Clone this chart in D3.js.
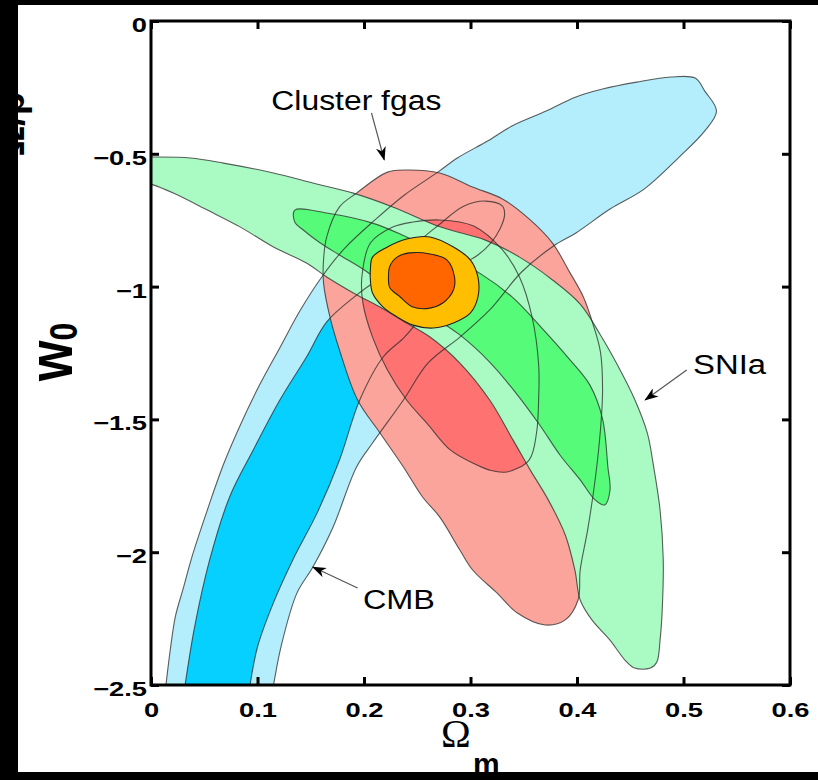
<!DOCTYPE html>
<html>
<head>
<meta charset="utf-8">
<script src="https://cdn.jsdelivr.net/npm/d3@7"></script>
<style>
  body { margin: 0; background: #000; }
  svg { display: block; }
</style>
</head>
<body>
<div id="chart"></div>
<script>
// Confidence contours in the (Omega_m, w0) plane
var cmbOuter = [[0.012,-2.56],[0.014,-2.50],[0.018,-2.37],[0.023,-2.24],[0.030,-2.14],[0.039,-2.01],[0.053,-1.84],[0.068,-1.67],[0.084,-1.52],[0.102,-1.37],[0.121,-1.23],[0.140,-1.09],[0.161,-0.96],[0.182,-0.855],[0.210,-0.75],[0.238,-0.655],[0.269,-0.57],[0.288,-0.515],[0.316,-0.452],[0.339,-0.395],[0.371,-0.339],[0.399,-0.286],[0.424,-0.256],[0.456,-0.23],[0.488,-0.211],[0.511,-0.215],[0.520,-0.264],[0.531,-0.339],[0.520,-0.414],[0.495,-0.516],[0.463,-0.633],[0.431,-0.708],[0.399,-0.798],[0.378,-0.847],[0.348,-0.945],[0.318,-1.088],[0.290,-1.19],[0.260,-1.288],[0.237,-1.427],[0.208,-1.589],[0.193,-1.679],[0.171,-1.905],[0.152,-2.056],[0.137,-2.154],[0.122,-2.357],[0.115,-2.5],[0.112,-2.56]];
var cmbInner = [[0.030,-2.56],[0.032,-2.50],[0.041,-2.28],[0.055,-2.03],[0.074,-1.79],[0.096,-1.615],[0.121,-1.427],[0.146,-1.265],[0.165,-1.133],[0.193,-1.032],[0.227,-0.93],[0.253,-0.825],[0.269,-0.772],[0.294,-0.697],[0.314,-0.678],[0.330,-0.697],[0.332,-0.73],[0.328,-0.78],[0.319,-0.836],[0.307,-0.881],[0.288,-0.93],[0.259,-1.088],[0.238,-1.19],[0.218,-1.265],[0.196,-1.427],[0.177,-1.653],[0.156,-1.852],[0.133,-2.03],[0.115,-2.19],[0.100,-2.357],[0.093,-2.50],[0.091,-2.56]];
var fgasOuter = [[0.193,-0.648],[0.222,-0.569],[0.240,-0.561],[0.271,-0.572],[0.302,-0.625],[0.330,-0.670],[0.355,-0.745],[0.377,-0.836],[0.392,-0.938],[0.406,-1.039],[0.415,-1.141],[0.422,-1.246],[0.424,-1.389],[0.422,-1.540],[0.417,-1.728],[0.410,-1.916],[0.403,-2.067],[0.401,-2.18],[0.389,-2.255],[0.370,-2.274],[0.344,-2.229],[0.325,-2.154],[0.302,-2.067],[0.290,-1.992],[0.271,-1.867],[0.255,-1.792],[0.237,-1.679],[0.215,-1.551],[0.194,-1.427],[0.177,-1.239],[0.168,-1.114],[0.162,-0.986],[0.162,-0.90],[0.165,-0.813],[0.177,-0.70]];
var fgasInner = [[0.198,-0.964],[0.206,-0.836],[0.227,-0.776],[0.246,-0.757],[0.271,-0.749],[0.303,-0.772],[0.330,-0.862],[0.346,-0.964],[0.358,-1.118],[0.364,-1.295],[0.364,-1.423],[0.362,-1.551],[0.355,-1.653],[0.334,-1.698],[0.318,-1.691],[0.302,-1.664],[0.281,-1.615],[0.259,-1.514],[0.240,-1.427],[0.222,-1.314],[0.208,-1.190],[0.199,-1.062]];
var sniaOuter = [[-0.010,-0.512],[0.002,-0.512],[0.037,-0.516],[0.068,-0.535],[0.115,-0.572],[0.152,-0.610],[0.190,-0.648],[0.227,-0.700],[0.272,-0.776],[0.314,-0.825],[0.346,-0.889],[0.377,-0.975],[0.403,-1.066],[0.422,-1.182],[0.438,-1.295],[0.454,-1.423],[0.466,-1.551],[0.472,-1.679],[0.478,-1.841],[0.481,-2.029],[0.480,-2.218],[0.478,-2.331],[0.475,-2.413],[0.469,-2.436],[0.454,-2.436],[0.445,-2.406],[0.431,-2.331],[0.414,-2.255],[0.403,-2.180],[0.398,-2.067],[0.389,-1.935],[0.373,-1.803],[0.356,-1.690],[0.340,-1.578],[0.318,-1.427],[0.290,-1.288],[0.262,-1.190],[0.240,-1.137],[0.215,-1.077],[0.190,-1.024],[0.165,-0.964],[0.146,-0.911],[0.115,-0.851],[0.084,-0.776],[0.053,-0.712],[0.021,-0.648],[0.002,-0.617],[-0.010,-0.606]];
var sniaInner = [[0.135,-0.712],[0.165,-0.723],[0.208,-0.761],[0.240,-0.813],[0.276,-0.881],[0.310,-0.953],[0.339,-1.039],[0.367,-1.156],[0.392,-1.269],[0.412,-1.370],[0.424,-1.498],[0.429,-1.679],[0.431,-1.766],[0.426,-1.822],[0.417,-1.803],[0.403,-1.728],[0.384,-1.634],[0.365,-1.521],[0.342,-1.397],[0.318,-1.284],[0.290,-1.182],[0.262,-1.107],[0.234,-1.043],[0.203,-0.945],[0.177,-0.881],[0.159,-0.836],[0.143,-0.787],[0.135,-0.757]];
var combOuter = [[0.206,-0.938],[0.208,-0.889],[0.222,-0.851],[0.240,-0.821],[0.262,-0.813],[0.284,-0.851],[0.300,-0.900],[0.307,-0.964],[0.307,-1.039],[0.300,-1.099],[0.284,-1.137],[0.265,-1.156],[0.246,-1.145],[0.231,-1.114],[0.218,-1.077],[0.208,-1.024],[0.206,-0.975]];
var combInner = [[0.224,-0.926],[0.231,-0.889],[0.243,-0.873],[0.262,-0.877],[0.278,-0.900],[0.285,-0.964],[0.284,-1.013],[0.274,-1.062],[0.262,-1.081],[0.246,-1.077],[0.234,-1.039],[0.224,-1.002],[0.223,-0.964]];

var xTicks = [0, 0.1, 0.2, 0.3, 0.4, 0.5, 0.6];
var xTickLabels = ["0", "0.1", "0.2", "0.3", "0.4", "0.5", "0.6"];
var yTicks = [0, -0.5, -1, -1.5, -2, -2.5];
var yTickLabels = ["0", "\u22120.5", "\u22121", "\u22121.5", "\u22122", "\u22122.5"];

// labels on the plot: text, anchor point, arrow start and tip
var noteText = ["Cluster fgas", "SNIa", "CMB"];
var notePos = [[0.113, -0.335], [0.509, -1.328], [0.199, -2.214]];
var noteArrow = [[[0.207, -0.346], [0.219, -0.523]], [[0.503, -1.314], [0.464, -1.427]], [[0.194, -2.135], [0.152, -2.056]]];

var W = 818, H = 780;
var font = "'Liberation Sans', Arial, Helvetica, sans-serif";
var stretch = 1.3; // the figure text is a little wide

var svg = d3.select("#chart").append("svg")
    .attr("width", W)
    .attr("height", H);

svg.append("rect").attr("width", W).attr("height", H).attr("fill", "#000");
svg.append("rect").attr("x", 18).attr("y", 5).attr("width", W - 18).attr("height", 767).attr("fill", "#fff");

var x = d3.scaleLinear().domain([0, 0.6]).range([151, 790]);
var y = d3.scaleLinear().domain([0, -2.5]).range([21, 685]);

svg.append("clipPath").attr("id", "plotclip")
    .append("rect")
    .attr("x", x(0)).attr("y", y(0))
    .attr("width", x(0.6) - x(0)).attr("height", y(-2.5) - y(0));

var shape = d3.line()
    .x(function (d) { return x(d[0]); })
    .y(function (d) { return y(d[1]); })
    .curve(d3.curveCatmullRomClosed.alpha(0.5));

var plot = svg.append("g").attr("clip-path", "url(#plotclip)");

// fills first, in drawing order
var layers = [
    { d: cmbOuter, fill: "#b4edfc" },
    { d: cmbInner, fill: "#05d0ff" },
    { d: fgasOuter, fill: "#fba49b" },
    { d: fgasInner, fill: "#fe7272" },
    { d: sniaOuter, fill: "#aafac4" },
    { d: sniaInner, fill: "#56fc79" }
];

plot.selectAll("path.fill")
    .data(layers)
    .enter()
    .append("path")
    .attr("class", "fill")
    .attr("d", function (l) { return shape(l.d); })
    .attr("fill", function (l) { return l.fill; })
    .attr("stroke", "none");

// contour outlines stay visible through the other fills
plot.selectAll("path.edge")
    .data(layers)
    .enter()
    .append("path")
    .attr("class", "edge")
    .attr("d", function (l) { return shape(l.d); })
    .attr("fill", "none")
    .attr("stroke", "#2a2a2a")
    .attr("stroke-opacity", 0.75)
    .attr("stroke-width", 1.1);

// combined constraint on top
plot.append("path").attr("d", shape(combOuter))
    .attr("fill", "#ffbe00").attr("stroke", "#222").attr("stroke-width", 1.1);
plot.append("path").attr("d", shape(combInner))
    .attr("fill", "#ff6600").attr("stroke", "#222").attr("stroke-width", 1.1);

// Axes - inward ticks on all four sides
var xAxis = svg.append("g")
    .attr("transform", "translate(0," + y(-2.5) + ")")
    .call(d3.axisBottom(x).tickValues(xTicks).tickSizeInner(-8).tickSizeOuter(0).tickPadding(17)
        .tickFormat(function (d, i) { return xTickLabels[i]; }));
var yAxis = svg.append("g")
    .attr("transform", "translate(" + x(0) + ",0)")
    .call(d3.axisLeft(y).tickValues(yTicks).tickSizeInner(-8).tickSizeOuter(0).tickPadding(4)
        .tickFormat(function (d, i) { return yTickLabels[i]; }));
svg.append("g")
    .attr("transform", "translate(0," + y(0) + ")")
    .call(d3.axisTop(x).tickValues(xTicks).tickSizeInner(-8).tickSizeOuter(0).tickFormat(""));
svg.append("g")
    .attr("transform", "translate(" + x(0.6) + ",0)")
    .call(d3.axisRight(y).tickValues(yTicks).tickSizeInner(-8).tickSizeOuter(0).tickFormat(""));

svg.selectAll(".domain").remove();
svg.selectAll(".tick line").attr("stroke", "#000").attr("stroke-width", 3);
svg.selectAll(".tick text")
    .attr("fill", "#000")
    .attr("font-family", font)
    .attr("font-weight", "bold")
    .attr("font-size", "21px");
xAxis.selectAll(".tick text").attr("transform", "scale(" + stretch + ",1)");
yAxis.selectAll(".tick text").attr("x", -4 / stretch).attr("dy", "0.5em").attr("transform", "scale(" + stretch + ",1)");

svg.append("rect")
    .attr("x", x(0)).attr("y", y(0))
    .attr("width", x(0.6) - x(0)).attr("height", y(-2.5) - y(0))
    .attr("fill", "none").attr("stroke", "#000").attr("stroke-width", 3);

// Annotations
var defs = svg.append("defs");
defs.append("marker")
    .attr("id", "head")
    .attr("viewBox", "0 0 14 10")
    .attr("refX", 13).attr("refY", 5)
    .attr("markerWidth", 14).attr("markerHeight", 10)
    .attr("markerUnits", "userSpaceOnUse")
    .attr("orient", "auto")
    .append("path")
    .attr("d", "M0,0 L14,5 L0,10 L4,5 Z")
    .attr("fill", "#000");

noteArrow.forEach(function (a) {
    svg.append("line")
        .attr("x1", x(a[0][0])).attr("y1", y(a[0][1]))
        .attr("x2", x(a[1][0])).attr("y2", y(a[1][1]))
        .attr("stroke", "#555").attr("stroke-width", 1.2)
        .attr("marker-end", "url(#head)");
});

var noteWidth = [170, 73, 72];
noteText.forEach(function (t, i) {
    svg.append("text")
        .attr("x", x(notePos[i][0])).attr("y", y(notePos[i][1]))
        .attr("font-family", font)
        .attr("font-size", "27px")
        .attr("textLength", noteWidth[i])
        .attr("lengthAdjust", "spacingAndGlyphs")
        .attr("fill", "#000")
        .text(t);
});

// Axis titles
svg.append("text")
    .attr("x", 441).attr("y", 747)
    .attr("font-family", "'Liberation Serif', 'Times New Roman', serif")
    .attr("font-size", "40px")
    .attr("fill", "#000")
    .text("\u03a9");
svg.append("text")
    .attr("x", 473).attr("y", 774)
    .attr("font-family", font)
    .attr("font-weight", "bold")
    .attr("font-size", "30px")
    .attr("fill", "#000")
    .text("m");

var wLabel = svg.append("text")
    .attr("transform", "translate(72,381) scale(1.2,1) rotate(-90)")
    .attr("font-family", font)
    .attr("font-weight", "bold")
    .attr("fill", "#000");
wLabel.append("tspan").attr("font-size", "52px").text("w");
wLabel.append("tspan").attr("font-size", "32px").attr("dy", "4").text("0");

// clipped fragment of a neighbouring panel's label at the far left
svg.append("text")
    .attr("transform", "translate(24,92) rotate(-90)")
    .attr("text-anchor", "end")
    .attr("font-family", font)
    .attr("font-weight", "bold")
    .attr("font-size", "38px")
    .attr("fill", "#000")
    .text("Ω/p");

// frame over everything
svg.append("rect").attr("x", 0).attr("y", 0).attr("width", 18).attr("height", H).attr("fill", "#000");
svg.append("rect").attr("x", 0).attr("y", 772).attr("width", W).attr("height", 8).attr("fill", "#000");
svg.append("rect").attr("x", 0).attr("y", 0).attr("width", W).attr("height", 5).attr("fill", "#000");
</script>
</body>
</html>
